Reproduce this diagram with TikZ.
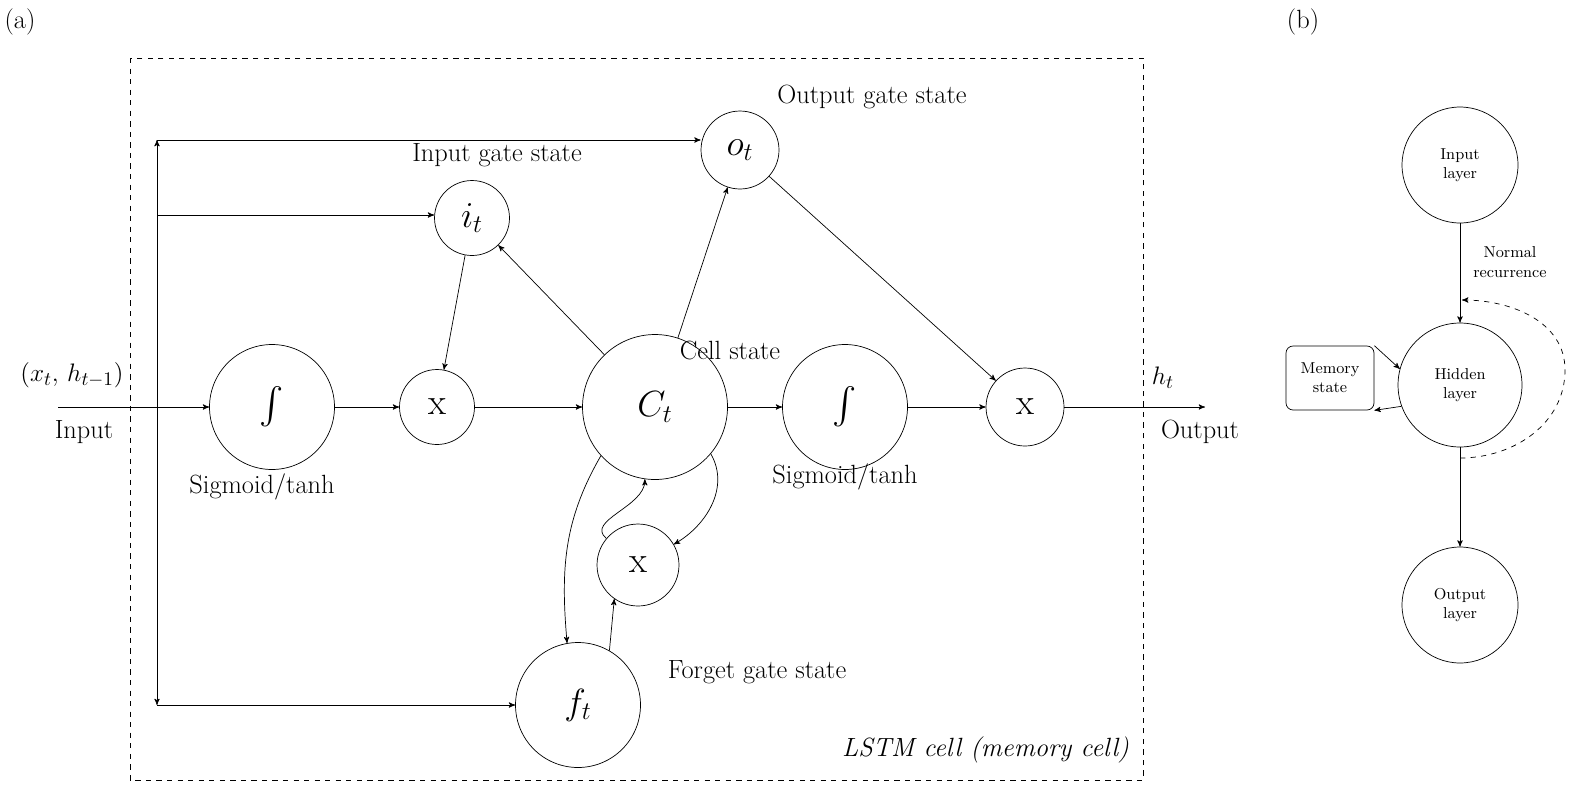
\documentclass[tikz,border=0pt]{standalone}
\usepackage{amsmath}
\usetikzlibrary{arrows,positioning}

\begin{document}
\begin{tikzpicture}[x=0.02cm,y=-0.02cm,->,>=stealth',thin,
    gate/.style={circle,draw,inner sep=0pt,font=\fontsize{21}{23}\selectfont},
    lbl/.style={font=\fontsize{15}{17}\selectfont},
    small/.style={font=\fontsize{9}{11}\selectfont,align=center}]

  \useasboundingbox (0,0) rectangle (1588,792);
  \draw[-,dashed] (130,58) rectangle (1143,780);

  % panel (a)
  \node[lbl] (pa) at (20,22) {(a)};
  \node[lbl] (pb) at (1303,22) {(b)};

  \node[gate,minimum size=2.5cm] (sig1) at (272,407) {$\int$};
  \node[gate,minimum size=1.5cm] (x1) at (437,407) {x};
  \node[gate,minimum size=2.9cm] (ct) at (655,407) {$C_t$};
  \node[gate,minimum size=2.5cm] (sig2) at (845,407) {$\int$};
  \node[gate,minimum size=1.56cm] (x2) at (1025,407) {x};
  \node[gate,minimum size=1.64cm] (x3) at (638,565) {x};
  \node[gate,minimum size=1.5cm] (it) at (472,218) {$i_t$};
  \node[gate,minimum size=1.56cm] (ot) at (740,150) {$o_t$};
  \node[gate,minimum size=2.5cm] (ft) at (578,705) {$f_t$};

  \coordinate (in) at (58,407);
  \coordinate (out) at (1205,407);
  \coordinate (vtop) at (157,140);
  \coordinate (vbot) at (157,705);
  \coordinate (vi) at (157,215);

  \node[lbl] (xh) at (72,375) {$(x_t,\,h_{t-1})$};
  \node[lbl] (inl) at (84,432) {Input};
  \node[lbl] (ht) at (1163,378) {$h_t$};
  \node[lbl] (outl) at (1200,432) {Output};
  \node[lbl] (igs) at (497,155) {Input gate state};
  \node[lbl] (ogs) at (872,97) {Output gate state};
  \node[lbl] (cs) at (730,350) {Cell state};
  \node[lbl] (s1) at (262,487) {Sigmoid/tanh};
  \node[lbl] (s2) at (845,477) {Sigmoid/tanh};
  \node[lbl] (fgs) at (757,672) {Forget gate state};
  \node[lbl,anchor=east] (lstm) at (1135,750) {\itshape LSTM cell (memory cell)};

  \draw (in) -- (sig1);
  \draw[<->] (vtop) -- (vbot);
  \draw (vtop) -- (ot.west |- vtop);
  \draw (vi) -- (it.west |- vi);
  \draw (vbot) -- (ft);
  \draw (sig1) -- (x1);
  \draw (x1) -- (ct);
  \draw (ct) -- (sig2);
  \draw (sig2) -- (x2);
  \draw (x2) -- (out);
  \draw (it) -- (x1);
  \draw (ct) -- (it);
  \draw (ct) -- (ot);
  \draw (ot) -- (x2);
  \draw (ct.222) to[out=240,in=95] (ft.100);
  \draw (x3.140) to[out=140,in=270] (ct.262);
  \draw (ct.320) to[out=300,in=30] (x3.30);
  \draw (ft.60) -- (x3.235);

  % panel (b)
  \node[gate,minimum size=2.32cm,small] (il) at (1460,165) {Input\\layer};
  \node[gate,minimum size=2.48cm,small] (hl) at (1460,385) {Hidden\\layer};
  \node[gate,minimum size=2.32cm,small] (ol) at (1460,605) {Output\\layer};
  \node[draw,rounded corners=4pt,minimum width=1.76cm,minimum height=1.28cm,small] (ms) at (1330,378) {Memory\\state};
  \node[small] (nr) at (1510,262) {Normal\\recurrence};
  \coordinate (rb) at (1460,458);
  \coordinate (rt) at (1462,300);

  \draw (il) -- (hl);
  \draw (hl) -- (ol);
  \draw (ms.north east) -- (hl.165);
  \draw (hl.200) -- (ms.south east);
  \draw[dashed] (rb) to[out=0,in=270] (1565,370) to[out=90,in=0] (rt);
\end{tikzpicture}
\end{document}
